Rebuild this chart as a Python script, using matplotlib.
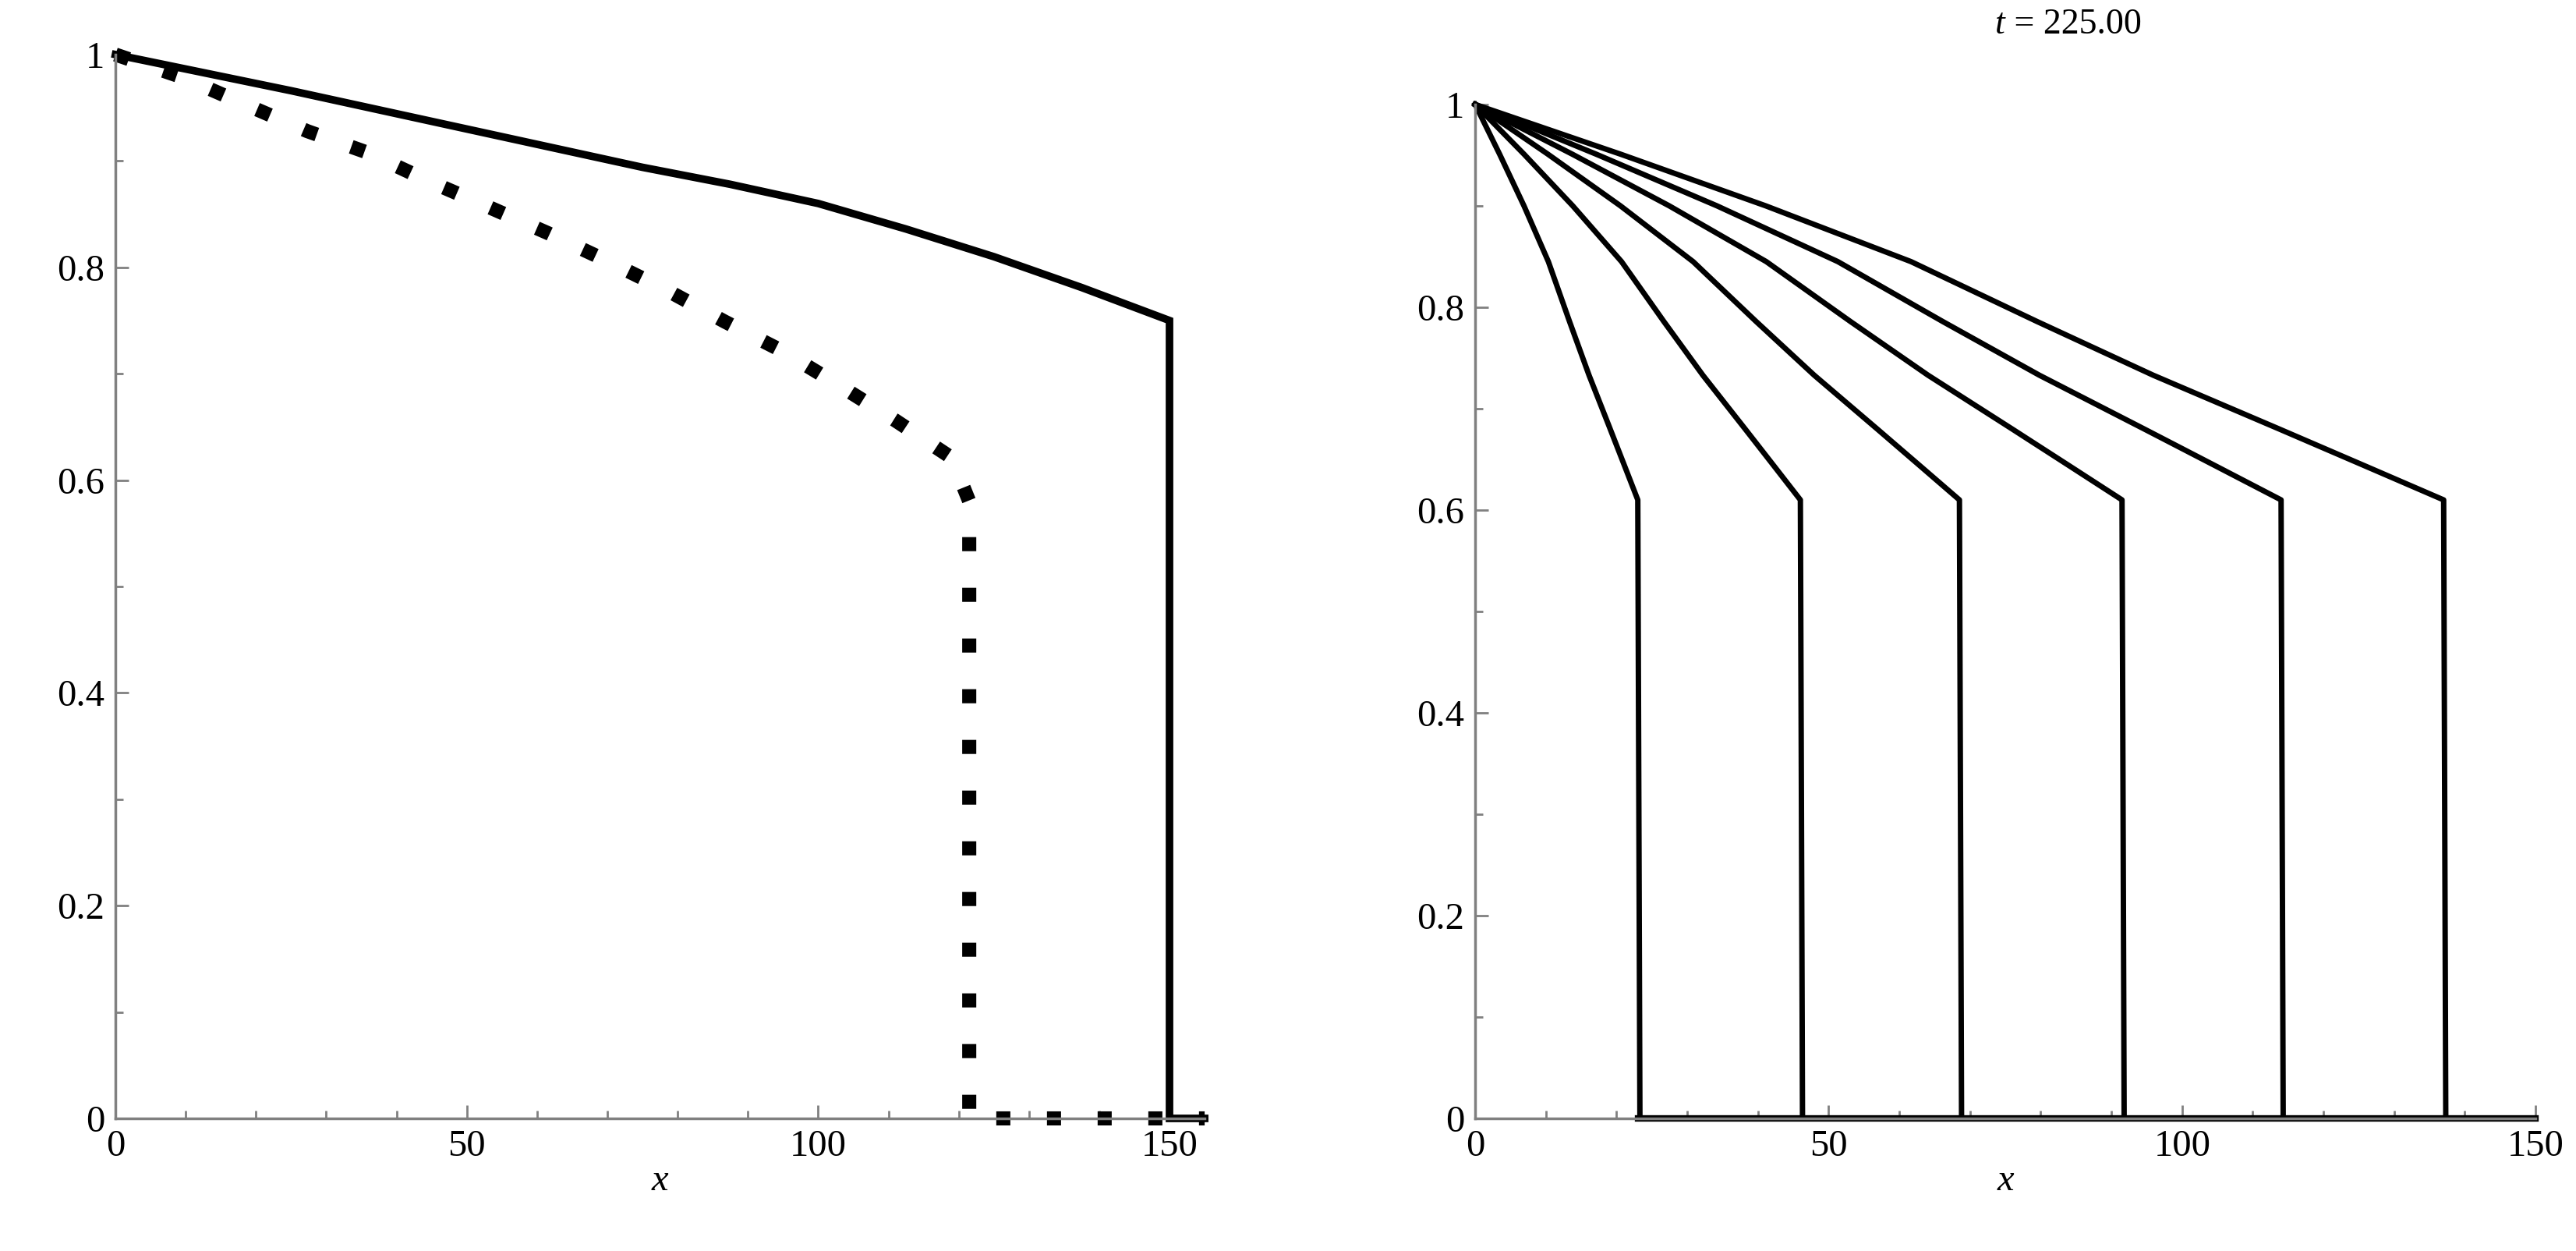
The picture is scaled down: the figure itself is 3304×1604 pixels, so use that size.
import matplotlib
matplotlib.use('Agg')
import matplotlib.pyplot as plt
from matplotlib.ticker import MultipleLocator

plt.rcParams['font.family'] = ['Liberation Serif', 'DejaVu Serif']
plt.rcParams['font.size'] = 35

# left panel
solid_x = [0, 12.5, 25, 37.5, 50, 62.5, 75, 87.5, 100, 112.5, 125, 137.5, 150, 150, 155]
solid_y = [1.0, 0.983, 0.966, 0.948, 0.93, 0.912, 0.894, 0.878, 0.86, 0.836, 0.81, 0.781, 0.75, 0.0, 0.0]
dot_x = [0, 9.8, 18.5, 27.3, 35.8, 44.6, 53, 61.6, 70, 78.6, 86.7, 95, 103, 111, 119, 121.5, 121.5, 155]
dot_y = [1.0, 0.978, 0.953, 0.928, 0.908, 0.881, 0.857, 0.832, 0.806, 0.778, 0.749, 0.721, 0.689, 0.656, 0.621, 0.58, 0.0, 0.0]

# right panel: one front per curve, all falling to 0.61 then down to 0
fronts = [23, 46, 68.5, 91.5, 114, 137]
front_frac = [0.0, 0.15, 0.3, 0.45, 0.58, 0.7, 0.83, 0.92, 1.0]
front_val = [1.0, 0.951, 0.9, 0.845, 0.786, 0.733, 0.68, 0.643, 0.61]
title = '225.00'

GRAY = '#808080'


def style(ax, xmax):
    for s in ['top', 'right']:
        ax.spines[s].set_visible(False)
    for s in ['left', 'bottom']:
        ax.spines[s].set_color(GRAY)
        ax.spines[s].set_linewidth(2.5)
    ax.set_xlim(0, xmax)
    ax.set_ylim(0, 1)
    ax.xaxis.set_major_locator(MultipleLocator(50))
    ax.xaxis.set_minor_locator(MultipleLocator(10))
    ax.yaxis.set_minor_locator(MultipleLocator(0.1))
    ax.set_yticks([0, 0.2, 0.4, 0.6, 0.8, 1.0])
    ax.set_yticklabels(['0', '0.2', '0.4', '0.6', '0.8', '1'])
    ax.tick_params(which='both', color=GRAY, width=2, direction='in')
    ax.tick_params(which='major', length=12, pad=10)
    ax.tick_params(which='minor', length=7)
    ax.set_xlabel('x', style='italic', labelpad=0)


fig = plt.figure(figsize=(33.05, 16.04), dpi=100)
ax1 = fig.add_axes([0.0448, 0.106, 0.4227, 0.8504])
ax2 = fig.add_axes([0.5725, 0.106, 0.4115, 0.8105])

ax1.plot(solid_x, solid_y, color='black', lw=7, clip_on=False, solid_joinstyle='miter')
ax1.plot(dot_x, dot_y, color='black', lw=13, linestyle=(0, (1, 2.6)),
         dash_capstyle='butt', clip_on=False)
style(ax1, 155)

for X in fronts:
    xs = [f * X for f in front_frac] + [X + 0.3]
    ys = front_val + [0.0]
    ax2.plot(xs, ys, color='black', lw=5, clip_on=False)
ax2.plot([fronts[0], 150], [0, 0], color='black', lw=6, clip_on=False)
style(ax2, 150)
ax2.text(0.5, 1.07, 't', style='italic', fontsize=33, ha='right',
         transform=ax2.transAxes)
ax2.text(0.5, 1.07, ' = ' + title, fontsize=33, ha='left',
         transform=ax2.transAxes)

fig.savefig('out.png', dpi=100)
